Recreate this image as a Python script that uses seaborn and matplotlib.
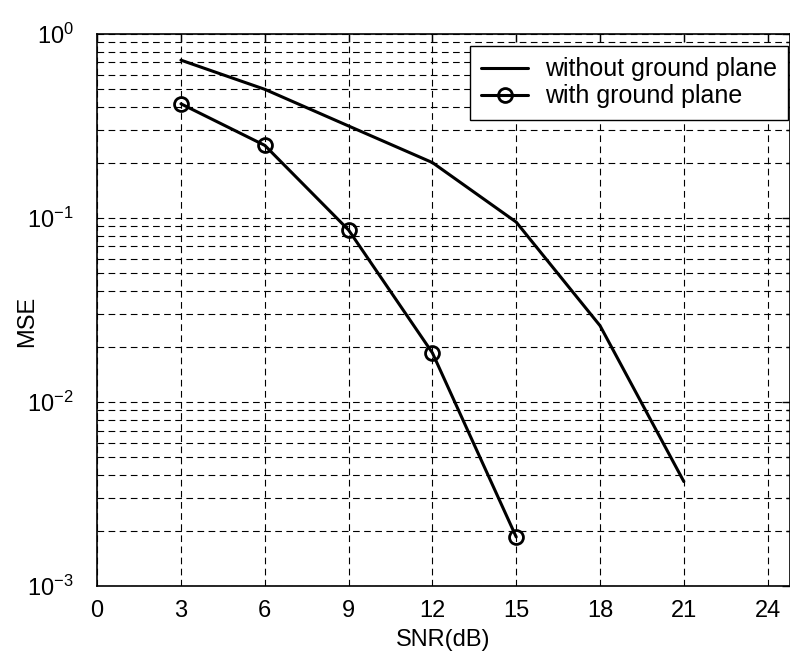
import matplotlib
matplotlib.use("Agg")
import matplotlib.pyplot as plt
import seaborn as sns
import pandas as pd
from matplotlib.ticker import LogLocator, FixedLocator

snr_without = [3, 6, 9, 12, 15, 18, 21]
mse_without = [0.72, 0.50, 0.316, 0.20, 0.095, 0.026, 0.0037]
snr_with = [3, 6, 9, 12, 15]
mse_with = [0.417, 0.248, 0.086, 0.0185, 0.00185]
x_ticks = [0, 3, 6, 9, 12, 15, 18, 21, 24]

sns.set_theme(style="white")
plt.rcParams['font.family'] = ['Liberation Sans', 'DejaVu Sans']
plt.rcParams['mathtext.fontset'] = 'custom'
plt.rcParams['mathtext.rm'] = 'Liberation Sans'
plt.rcParams['mathtext.default'] = 'regular'
plt.rcParams['text.color'] = 'black'
plt.rcParams['axes.labelcolor'] = 'black'

fig = plt.figure(figsize=(7.9, 6.52), dpi=100)
ax = fig.add_axes([0.123, 0.101, 0.877, 0.847])

df1 = pd.DataFrame({"snr": snr_without, "mse": mse_without})
df2 = pd.DataFrame({"snr": snr_with, "mse": mse_with})
sns.lineplot(data=df1, x="snr", y="mse", ax=ax, color="black", linewidth=2.2,
             label="without ground plane")
sns.lineplot(data=df2, x="snr", y="mse", ax=ax, color="black", linewidth=2.2,
             marker="o", markersize=10, markerfacecolor="none",
             markeredgecolor="black", markeredgewidth=2,
             label="with ground plane")

ax.set_yscale("log")
ax.set_xlim(0, 24.8)
ax.set_ylim(1e-3, 1)
ax.xaxis.set_major_locator(FixedLocator(x_ticks))
ax.yaxis.set_major_locator(LogLocator(base=10, numticks=10))
ax.yaxis.set_minor_locator(LogLocator(base=10, subs=range(2, 10), numticks=100))

ax.grid(True, which="major", axis="both", color="black", linestyle=(0, (6, 4)), linewidth=0.8)
ax.grid(True, which="minor", axis="y", color="black", linestyle=(0, (6, 4)), linewidth=0.8)

for s in ax.spines.values():
    s.set_color("black")
    s.set_linewidth(1.2)

ax.tick_params(axis="both", which="both", direction="in", top=True, right=True,
               labelsize=17, colors="black", length=6, width=1)
ax.tick_params(axis="y", which="minor", length=3)
ax.tick_params(axis="x", pad=10)
ax.tick_params(axis="y", pad=17)

ax.set_xlabel("SNR(dB)", fontsize=17, labelpad=5)
ax.set_ylabel("MSE", fontsize=17)
ax.yaxis.set_label_coords(-0.085, 0.48)

leg = ax.legend(loc="upper right", bbox_to_anchor=(0.997, 0.978), fontsize=18,
                frameon=True, fancybox=False, framealpha=1, edgecolor="black",
                handlelength=1.9, handletextpad=0.65, borderpad=0.45,
                labelspacing=0.12, borderaxespad=0)
leg.get_frame().set_linewidth(1.0)

fig.savefig("out.png", dpi=100)
